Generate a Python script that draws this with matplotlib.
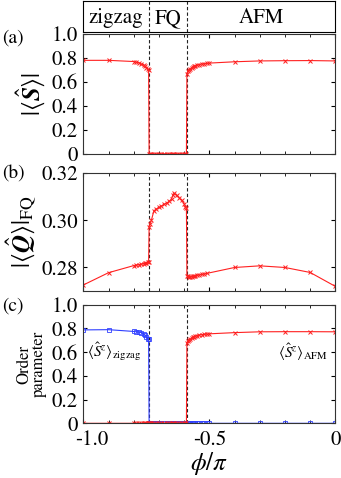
import numpy as np
import matplotlib
matplotlib.use("Agg")
import matplotlib.pyplot as plt
import matplotlib.transforms as mtransforms
from matplotlib.ticker import MultipleLocator

plt.rcParams['font.family'] = ['STIXGeneral', 'DejaVu Sans']
plt.rcParams['mathtext.fontset'] = 'stix'

# phase boundaries
x_zz_fq = -0.74
x_fq_afm = -0.59

# phi/pi grid
x_zz = [-1.0, -0.9, -0.8, -0.79, -0.78, -0.77, -0.76, -0.755, -0.75, -0.745, -0.741]
x_fq = [-0.739, -0.735, -0.73, -0.72, -0.71, -0.70, -0.69, -0.68, -0.67, -0.66, -0.65,
        -0.645, -0.64, -0.63, -0.62, -0.61, -0.60, -0.595, -0.591]
x_afm = [-0.589, -0.585, -0.58, -0.575, -0.57, -0.565, -0.56, -0.555, -0.55, -0.54,
         -0.53, -0.52, -0.51, -0.5, -0.4, -0.3, -0.2, -0.1, 0.0]

# (a) |<S>|
s_zz = [0.78, 0.78, 0.77, 0.765, 0.76, 0.75, 0.74, 0.73, 0.72, 0.71, 0.70]
s_fq = [0.0] * len(x_fq)
s_afm = [0.67, 0.69, 0.70, 0.71, 0.72, 0.725, 0.73, 0.735, 0.74, 0.745, 0.75, 0.752,
         0.755, 0.757, 0.768, 0.775, 0.777, 0.778, 0.775]

# (b) |<Q>|_FQ
q_zz = [0.2726, 0.2778, 0.2808, 0.281, 0.2812, 0.2814, 0.2816, 0.2818, 0.282, 0.2822, 0.2825]
q_fq = [0.2972, 0.2985, 0.300, 0.304, 0.3048, 0.3055, 0.306, 0.3068, 0.3072, 0.308, 0.309,
        0.3105, 0.3115, 0.3105, 0.3095, 0.3085, 0.307, 0.3058, 0.3052]
q_afm = [0.2765, 0.2762, 0.2760, 0.2760, 0.2761, 0.2762, 0.2763, 0.2765, 0.2767, 0.2769,
         0.2771, 0.2773, 0.2775, 0.2800, 0.2807, 0.2800, 0.2779, 0.2720]

# (c) order parameters
zz_order = [0.788, 0.79, 0.775, 0.772, 0.77, 0.765, 0.755, 0.745, 0.73, 0.715, 0.708]
afm_order = [0.68, 0.695, 0.705, 0.712, 0.72, 0.725, 0.73, 0.735, 0.74, 0.745, 0.748,
             0.75, 0.752, 0.755, 0.765, 0.772, 0.773, 0.773, 0.772]

red = '#ff2020'
blue = '#2f3fff'

fig = plt.figure(figsize=(3.41, 4.78), dpi=100)
L, W = 0.2444, 0.739

def style(ax):
    ax.set_xlim(-1.0, 0.0)
    ax.xaxis.set_major_locator(MultipleLocator(0.5))
    ax.xaxis.set_minor_locator(MultipleLocator(0.1))
    ax.tick_params(which='both', direction='in', top=True, right=True, labelsize=15)
    ax.tick_params(which='major', length=3, pad=4)
    ax.tick_params(which='minor', length=2)
    for sp in ax.spines.values():
        sp.set_color('#333333')
    for xv in (x_zz_fq, x_fq_afm):
        ax.axvline(xv, color='#222222', ls=(0, (3, 2)), lw=0.8, zorder=0)

# phase box
axt = fig.add_axes([L, 0.934, W, 0.063])
axt.set_xlim(-1.0, 0.0)
axt.set_ylim(0, 1)
axt.set_xticks([])
axt.set_yticks([])
for xv in (x_zz_fq, x_fq_afm):
    axt.axvline(xv, color='#222222', ls=(0, (3, 2)), lw=0.8)
axt.text((-1.0 + x_zz_fq) / 2, 0.45, 'zigzag', ha='center', va='center', fontsize=15)
axt.text((x_zz_fq + x_fq_afm) / 2, 0.45, 'FQ', ha='center', va='center', fontsize=15)
axt.text((x_fq_afm + 0.0) / 2, 0.45, 'AFM', ha='center', va='center', fontsize=15)

mk = dict(color=red, lw=0.8, marker='x', ms=3.5, mew=0.7)

# (a)
axa = fig.add_axes([L, 0.678, W, 0.251])
style(axa)
axa.plot(x_zz + x_fq + x_afm, s_zz + s_fq + s_afm, **mk)
axa.set_ylim(0, 1.0)
axa.set_yticks([0, 0.2, 0.4, 0.6, 0.8, 1.0])
axa.set_yticklabels(['0', '0.2', '0.4', '0.6', '0.8', '1.0'])
axa.set_xticklabels([])
axa.set_ylabel(r'$|\langle\hat{\boldsymbol{S}}\rangle|$', fontsize=18, labelpad=3)
fig.text(0.005, 0.92, '(a)', fontsize=14, va='center')

# (b)
axb = fig.add_axes([L, 0.391, W, 0.247])
style(axb)
axb.plot(x_zz + x_fq + x_afm[:13] + x_afm[14:], q_zz + q_fq + q_afm, **mk)
axb.set_ylim(0.27, 0.32)
axb.set_yticks([0.28, 0.30, 0.32])
axb.set_yticklabels(['0.28', '0.30', '0.32'])
axb.set_xticklabels([])
axb.set_ylabel(r'$|\langle\hat{\boldsymbol{Q}}\rangle|_{\rm FQ}$', fontsize=18, labelpad=2)
fig.text(0.005, 0.637, '(b)', fontsize=14, va='center')

# (c)
axc = fig.add_axes([L, 0.1144, W, 0.248])
style(axc)
x_all = x_zz + x_fq + x_afm
axc.plot(x_all, zz_order + [0.0] * (len(x_fq) + len(x_afm)), color=blue, lw=0.8,
         marker='s', ms=3, mew=0.6, mfc='none')
axc.plot(x_all, [0.0] * (len(x_zz) + len(x_fq)) + afm_order, **mk)
axc.set_ylim(0, 1.0)
axc.set_yticks([0, 0.2, 0.4, 0.6, 0.8, 1.0])
axc.set_yticklabels(['0', '0.2', '0.4', '0.6', '0.8', '1.0'])
axc.set_xticks([-1.0, -0.5, 0.0])
axc.set_xticklabels(['-1.0', '-0.5', '0'])
axc.tick_params(axis='x', pad=5)
# nudge the first x label right so it clears the "0" on the y axis
first = axc.get_xticklabels()[0]
first.set_transform(first.get_transform() +
                    mtransforms.ScaledTranslation(6 / 72, 0, fig.dpi_scale_trans))
axc.set_ylabel('Order\nparameter', fontsize=12, labelpad=3, linespacing=0.95)
axc.set_xlabel(r'$\phi/\pi$', fontsize=18, labelpad=0)
axc.text(-0.985, 0.6, r'$\langle\hat{S}^z\rangle_{\rm zigzag}$', fontsize=11, va='center')
axc.text(-0.03, 0.6, r'$\langle\hat{S}^z\rangle_{\rm AFM}$', fontsize=11, va='center', ha='right')
fig.text(0.005, 0.36, '(c)', fontsize=14, va='center')

fig.savefig('out.png', dpi=100)
